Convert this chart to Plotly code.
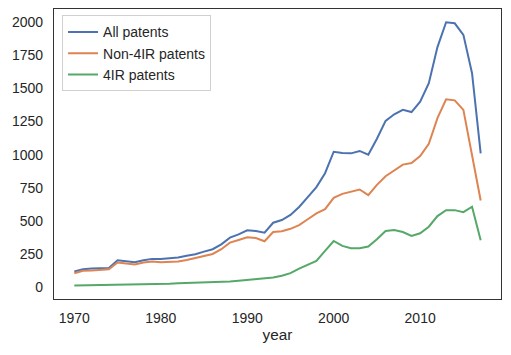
import plotly.graph_objects as go

years = list(range(1970, 2018))

all_patents = [118, 135, 140, 143, 145, 203, 195, 188, 203, 213,
               213, 218, 223, 236, 248, 268, 286, 323, 373, 398,
               429, 424, 411, 486, 506, 545, 605, 680, 755, 860,
               1022, 1012, 1010, 1028, 1000, 1120, 1255, 1305, 1338, 1322,
               1400, 1540, 1812, 2000, 1992, 1905, 1615, 1010]

non_4ir = [105, 123, 125, 130, 135, 185, 178, 170, 185, 193,
           188, 188, 193, 205, 220, 238, 250, 286, 336, 356,
           376, 371, 346, 416, 421, 440, 468, 512, 556, 588,
           674, 704, 719, 737, 694, 772, 837, 880, 925, 937,
           990, 1082, 1276, 1418, 1410, 1338, 1005, 654]

ir4 = [12, 13, 14, 14, 14, 15, 15, 16, 17, 19,
       22, 25, 28, 30, 30, 32, 35, 38, 42, 47,
       53, 55, 62, 72, 85, 105, 140, 172, 198, 273,
       348, 311, 294, 293, 306, 361, 423, 431, 416, 386,
       406, 456, 536, 581, 581, 566, 607, 353]

series = [("All patents", all_patents, "#4C72B0"),
          ("Non-4IR patents", non_4ir, "#DD8452"),
          ("4IR patents", ir4, "#55A868")]

fig = go.Figure()
for name, vals, col in series:
    fig.add_trace(go.Scatter(x=years, y=vals, mode="lines", name=name,
                             line=dict(color=col, width=2)))

font_family = "Liberation Sans, Arial, sans-serif"
fig.update_layout(
    width=511, height=355,
    margin=dict(l=54, r=10, t=9, b=56),
    paper_bgcolor="white", plot_bgcolor="white",
    font=dict(family=font_family, size=14, color="#262626"),
    showlegend=True,
    legend=dict(x=0.018, y=0.978, xanchor="left", yanchor="top",
                bordercolor="#d0d0d0", borderwidth=1, bgcolor="rgba(255,255,255,0.8)",
                font=dict(size=14, color="#262626"), itemwidth=30,
                tracegroupgap=0),
    xaxis=dict(range=[1967.65, 2019.35], tickvals=[1970, 1980, 1990, 2000, 2010],
               showgrid=False, zeroline=False, showline=True, mirror=True,
               linecolor="#333333", linewidth=1.3, automargin=False,
               ticks="outside", ticklen=6, tickcolor="rgba(0,0,0,0)",
               title=dict(text="year", font=dict(size=15.3), standoff=4)),
    yaxis=dict(range=[-90, 2100], tickvals=[0, 250, 500, 750, 1000, 1250, 1500, 1750, 2000],
               showgrid=False, zeroline=False, showline=True, mirror=True,
               linecolor="#333333", linewidth=1.3, automargin=False,
               ticks="outside", ticklen=7, tickcolor="rgba(0,0,0,0)"),
)

fig.write_html("out.html", config={"displayModeBar": False},
               post_script="document.body.style.margin='0';document.body.style.overflow='hidden';")
